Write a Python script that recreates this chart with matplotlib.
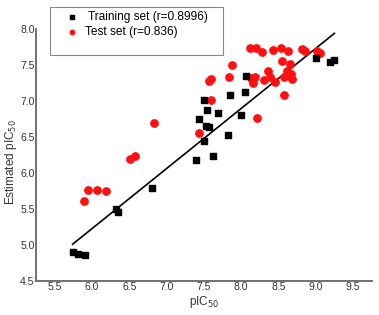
import matplotlib
matplotlib.use("Agg")
import matplotlib.pyplot as plt
import numpy as np
from matplotlib.patches import Rectangle

# training set (black squares)
train_x = [5.74, 5.81, 5.90, 6.32, 6.35, 6.80, 7.39, 7.62, 7.43, 7.50,
           7.54, 7.53, 7.57, 7.50, 7.69, 7.82, 7.85, 8.00, 8.05, 8.07,
           9.00, 9.19, 9.24]
train_y = [4.90, 4.87, 4.86, 5.50, 5.46, 5.79, 6.18, 6.23, 6.75, 7.02,
           6.87, 6.65, 6.64, 6.44, 6.83, 6.53, 7.09, 6.81, 7.13, 7.35,
           7.60, 7.54, 7.57]

# test set (red circles)
test_x = [5.89, 5.95, 6.07, 6.19, 6.51, 6.57, 6.83, 7.44, 7.57, 7.60,
          7.60, 7.83, 7.88, 8.12, 8.20, 8.28, 8.42, 8.53, 8.63, 8.82,
          8.86, 9.01, 9.03, 9.06, 8.13, 8.19, 8.16, 8.14, 8.36, 8.39,
          8.31, 8.45, 8.55, 8.66, 8.61, 8.67, 8.58, 8.68, 8.57, 8.21]
test_y = [5.61, 5.77, 5.77, 5.75, 6.20, 6.23, 6.69, 6.56, 7.28, 7.31,
          7.02, 7.34, 7.50, 7.74, 7.74, 7.68, 7.71, 7.73, 7.69, 7.72,
          7.70, 7.69, 7.67, 7.66, 7.32, 7.33, 7.25, 7.31, 7.41, 7.33,
          7.29, 7.26, 7.56, 7.51, 7.42, 7.38, 7.33, 7.31, 7.09, 6.76]

# regression line end points
line_x = [5.74, 9.25]
line_y = [5.01, 7.94]

plt.rcParams['font.family'] = ['Liberation Sans', 'DejaVu Sans']

fig = plt.figure(figsize=(3.79, 3.15), dpi=100)
ax = fig.add_axes([0.095, 0.108, 0.886, 0.800])

ax.plot(line_x, line_y, color='black', lw=1.2, zorder=1)
ax.scatter(train_x, train_y, marker='s', s=21, color='black', zorder=3,
           label=' Training set (r=0.8996)')
ax.scatter(test_x, test_y, marker='o', s=28, color='#ff1010', zorder=2,
           label='Test set (r=0.836)')

ax.set_xlim(5.25, 9.75)
ax.set_ylim(4.5, 8.0)
ax.set_xticks(np.arange(5.5, 9.6, 0.5))
ax.set_yticks(np.arange(4.5, 8.1, 0.5))
ax.xaxis.set_major_formatter(matplotlib.ticker.FormatStrFormatter('%.1f'))
ax.yaxis.set_major_formatter(matplotlib.ticker.FormatStrFormatter('%.1f'))
ax.tick_params(length=0, pad=1, labelsize=7.5, colors='#333333')

for side in ['top', 'right']:
    ax.spines[side].set_visible(False)
for side in ['left', 'bottom']:
    ax.spines[side].set_color('#666666')
    ax.spines[side].set_linewidth(1.3)

ax.set_xlabel('pIC$_{50}$', fontsize=8.5, color='#333333', labelpad=1)
ax.set_ylabel('Estimated pIC$_{50}$', fontsize=8.5, color='#333333')
ax.yaxis.set_label_coords(-0.052, 0.47)

# legend box is drawn on its own, the legend itself has no frame
fig.patches.append(Rectangle((0.132, 0.825), 0.456, 0.153,
                             transform=fig.transFigure, fill=False,
                             edgecolor='#888888', lw=0.8))
fig.legend(*ax.get_legend_handles_labels(), loc='upper left',
           bbox_to_anchor=(0.168, 0.966), fontsize=8.6, frameon=False,
           markerscale=0.6, handletextpad=0.35, borderpad=0,
           labelspacing=0.3, borderaxespad=0, handlelength=1.4)

fig.savefig('out.png', dpi=100)
